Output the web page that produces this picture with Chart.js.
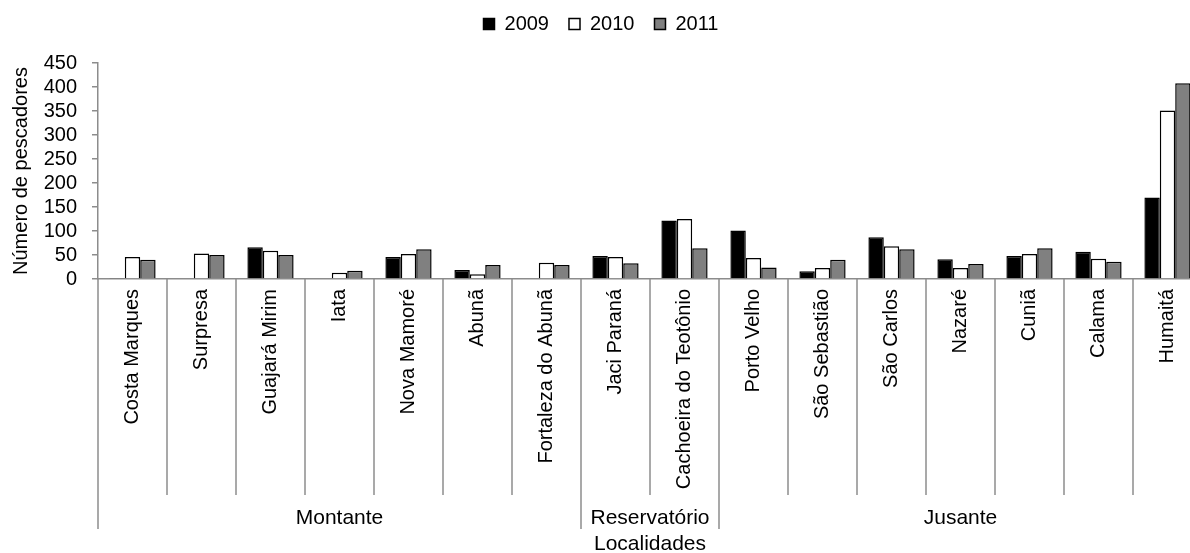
<!DOCTYPE html>
<html>
<head>
<meta charset="utf-8">
<title>Número de pescadores por localidade</title>
<script src="https://cdn.jsdelivr.net/npm/chart.js@4.4.1/dist/chart.umd.min.js"></script>
<style>
    body { margin: 0; overflow: hidden; background: #fff; }
    #wrap { width: 1204px; height: 553px; }
</style>
</head>
<body>
<div id="wrap"><canvas id="myChart"></canvas></div>
<script>
// Localidades (eixo x), na ordem do rio
const localidades = ['Costa Marques', 'Surpresa', 'Guajará Mirim', 'Iata', 'Nova Mamoré', 'Abunã',
    'Fortaleza do Abunã', 'Jaci Paraná', 'Cachoeira do Teotônio', 'Porto Velho', 'São Sebastião',
    'São Carlos', 'Nazaré', 'Cuniã', 'Calama', 'Humaitá'];

// Trechos e quantas localidades cada um agrupa
const trechos = ['Montante', 'Reservatório', 'Jusante'];
const trechoTamanho = [7, 2, 7];

// Número de pescadores por ano
const anos = ['2009', '2010', '2011'];
const pescadores2009 = [2, 0, 66, 0, 46, 19, 0, 48, 122, 101, 16, 87, 41, 48, 57, 170];
const pescadores2010 = [46, 53, 59, 13, 52, 10, 34, 46, 125, 44, 23, 68, 23, 52, 42, 351];
const pescadores2011 = [40, 50, 50, 17, 62, 29, 29, 33, 64, 24, 40, 62, 31, 64, 36, 408];

// Eixo y
const yMax = 450;
const yStep = 50;

const fonte = '"Liberation Sans", Arial, sans-serif';
Chart.defaults.font.family = fonte;
Chart.defaults.color = '#000';

// Plugin para desenhar as divisórias das categorias e os nomes dos trechos
const divisorias = {
    id: 'divisorias',
    afterDraw(chart) {
        const ctx = chart.ctx;
        const xScale = chart.scales.x;
        const y0 = chart.chartArea.bottom;
        const meio = (xScale.getPixelForValue(1) - xScale.getPixelForValue(0)) / 2;

        // índices onde começa/termina cada trecho
        const limites = [0];
        trechoTamanho.forEach(n => limites.push(limites[limites.length - 1] + n));

        ctx.save();
        ctx.strokeStyle = '#8c8c8c';
        ctx.lineWidth = 1.5;
        for (let i = 0; i <= localidades.length; i++) {
            const px = xScale.getPixelForValue(i) - meio;
            const fim = limites.includes(i) ? y0 + 250 : y0 + 216;
            ctx.beginPath();
            ctx.moveTo(px, y0);
            ctx.lineTo(px, fim);
            ctx.stroke();
        }

        // nomes dos trechos
        ctx.fillStyle = '#000';
        ctx.font = '21px ' + fonte;
        ctx.textAlign = 'center';
        ctx.textBaseline = 'middle';
        trechos.forEach((nome, t) => {
            const a = xScale.getPixelForValue(limites[t]) - meio;
            const b = xScale.getPixelForValue(limites[t + 1]) - meio;
            ctx.fillText(nome, (a + b) / 2, y0 + 239);
        });
        ctx.restore();
    }
};

function plotGraph() {
    const ctx = document.getElementById('myChart').getContext('2d');

    new Chart(ctx, {
        type: 'bar',
        data: {
            labels: localidades,
            datasets: [
                { label: anos[0], data: pescadores2009, backgroundColor: '#000000', borderColor: '#000', borderWidth: 1.5 },
                { label: anos[1], data: pescadores2010, backgroundColor: '#ffffff', borderColor: '#000', borderWidth: 1.5 },
                { label: anos[2], data: pescadores2011, backgroundColor: '#808080', borderColor: '#000', borderWidth: 1.5 }
            ]
        },
        options: {
            responsive: true,
            maintainAspectRatio: false,
            animation: false,
            layout: { padding: { top: -6, right: 2, left: 0, bottom: 0 } },
            datasets: { bar: { categoryPercentage: 0.67, barPercentage: 1.0 } },
            plugins: {
                tooltip: { enabled: false },
                legend: {
                    position: 'top',
                    labels: { boxWidth: 11, boxHeight: 11, padding: 20, color: '#000', font: { size: 20 } }
                },
                // espaço vazio entre a legenda e o gráfico
                subtitle: {
                    display: true,
                    text: '',
                    weight: 500,
                    font: { size: 10, lineHeight: 1 },
                    padding: { top: 9, bottom: 0 }
                }
            },
            scales: {
                x: {
                    grid: { display: false, drawTicks: false },
                    border: { color: '#8c8c8c', width: 1.5 },
                    ticks: { autoSkip: false, maxRotation: 90, minRotation: 90, padding: 10, color: '#000', font: { size: 20 } },
                    title: { display: true, text: 'Localidades', color: '#000', font: { size: 21, lineHeight: 0.85 }, padding: 0 },
                    afterFit(scale) {
                        scale.height = 274;
                        scale.paddingLeft = 0;
                        scale.paddingRight = 0;
                    }
                },
                y: {
                    min: 0,
                    max: yMax,
                    ticks: { stepSize: yStep, autoSkip: false, padding: 15, color: '#000', font: { size: 20 } },
                    grid: { drawOnChartArea: false, drawTicks: true, tickLength: 6, color: '#8c8c8c', lineWidth: 1.5 },
                    border: { color: '#8c8c8c', width: 1.5 },
                    title: { display: true, text: 'Número de pescadores', color: '#000', font: { size: 20, lineHeight: 1 }, padding: { top: 11, bottom: 0 } },
                    afterFit(scale) {
                        scale.width = 98;
                    }
                }
            }
        },
        plugins: [divisorias]
    });
}

plotGraph();
</script>
</body>
</html>
